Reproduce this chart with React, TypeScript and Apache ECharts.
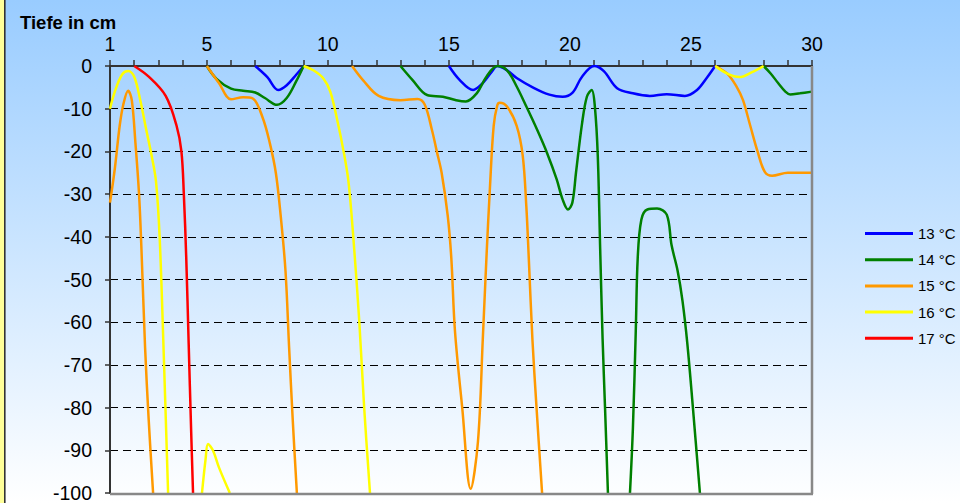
import React, { useEffect, useRef } from "react";
import * as echarts from "echarts";

const seriesNames = ["13 °C", "14 °C", "15 °C", "16 °C", "17 °C"];
const seriesColors = ["#0000FF", "#008000", "#FF9900", "#FFFF00", "#FF0000"];

const xLabelValues = [1, 5, 10, 15, 20, 25, 30];

// 13 °C isotherm segments [day, depth]
const iso13: number[][][] = [
  [[7, 0], [7.5, -2.6], [7.95, -5.6], [8.3, -4.5], [8.7, -2], [9, 0]],
  [[15, 0], [15.45, -3.3], [16, -5.6], [16.4, -4], [16.75, -1.5], [17, 0], [17.4, -1], [17.8, -2.8], [18.5, -5.1], [19.15, -6.7], [19.7, -7.2], [20.1, -6.3], [20.5, -2.5], [21, 0], [21.4, -1.2], [21.95, -5.2], [22.6, -6.4], [23.3, -7], [24, -6.6], [24.75, -7], [25.25, -5.6], [25.65, -2.8], [26, 0]],
];

// 14 °C isotherm segments
const iso14: number[][][] = [
  [[5, 0], [5.4, -3], [6, -5.3], [6.5, -5.8], [7, -6.2], [7.4, -7.5], [7.9, -9.1], [8.3, -7.5], [8.7, -3.5], [9, 0]],
  [[13, 0], [13.5, -3.3], [14.1, -6.8], [14.75, -7.2], [15.3, -8], [15.7, -8.3], [16.15, -6.4], [16.55, -2.5], [17, 0], [17.4, -1], [17.8, -4.8], [18.2, -9.5], [18.65, -15], [19.05, -20.3], [19.45, -26.5], [19.7, -31.3], [19.92, -33.6], [20.1, -32], [20.25, -25], [20.5, -13.5], [20.7, -7.2], [20.9, -5.6], [21.03, -9.5], [21.15, -21], [21.25, -43], [21.35, -64], [21.45, -80], [21.57, -100]],
  [[22.48, -100], [22.6, -85], [22.72, -62], [22.8, -45], [22.95, -36], [23.2, -33.6], [23.6, -33.4], [24, -34.8], [24.2, -42], [24.45, -48], [24.65, -55], [24.85, -65], [25.08, -80], [25.37, -100]],
  [[28, 0], [28.3, -1.8], [28.6, -4], [28.9, -6], [29.1, -6.7], [29.5, -6.4], [30, -6]],
];

// 15 °C isotherm segments
const iso15: number[][][] = [
  [[1, -32], [1.2, -24], [1.4, -14], [1.55, -9], [1.75, -5.8], [1.9, -8], [2.05, -18], [2.2, -30], [2.3, -43], [2.45, -66], [2.6, -83], [2.78, -100]],
  [[5, 0], [5.5, -4], [6, -7.8], [6.5, -7.3], [6.9, -7.6], [7.3, -12], [7.6, -18], [7.85, -25], [8.05, -35], [8.25, -48], [8.4, -66], [8.55, -83], [8.72, -100]],
  [[11, 0], [11.45, -3.3], [12.1, -7], [13, -8], [13.7, -7.7], [14, -9], [14.3, -15], [14.5, -20], [14.7, -25], [14.95, -35], [15.1, -45], [15.25, -62], [15.55, -80], [15.9, -99], [16.2, -88], [16.4, -64], [16.55, -45], [16.7, -28], [16.85, -14], [17, -9.2], [17.1, -8.6], [17.4, -9.5], [17.8, -14], [18.05, -21], [18.2, -33], [18.3, -45], [18.45, -64], [18.62, -80], [18.85, -100]],
  [[26, 0], [26.5, -1.8], [26.9, -5], [27.15, -8], [27.45, -14], [27.75, -20], [28.05, -24.8], [28.35, -25.7], [29, -25], [30, -25]],
];

// 16 °C isotherm segments
const iso16: number[][][] = [
  [[1, -10], [1.2, -6], [1.5, -2], [1.75, -1.2], [2, -2.5], [2.25, -8], [2.5, -15], [2.72, -21], [2.9, -27], [3.05, -40], [3.2, -64], [3.4, -100]],
  [[4.8, -100], [4.95, -92], [5.05, -88.5], [5.25, -90], [5.5, -94], [5.95, -100]],
  [[9, 0], [9.4, -1], [9.8, -2.8], [10.1, -6], [10.4, -13], [10.65, -20], [10.85, -27], [11.05, -40], [11.3, -60], [11.5, -80], [11.74, -100]],
  [[26, 0], [26.5, -1.8], [27, -2.6], [27.5, -1.5], [28, 0]],
];

// 17 °C isotherm segments
const iso17: number[][][] = [
  [[2, 0], [2.6, -2.5], [3.3, -7], [3.75, -14], [3.95, -20], [4.05, -30], [4.15, -45], [4.25, -65], [4.35, -85], [4.43, -100]],
];

const allIso = [iso13, iso14, iso15, iso16, iso17];

const FONT = "'Liberation Sans', Arial, Helvetica, sans-serif";

export default function App() {
  const ref = useRef<HTMLDivElement>(null);

  useEffect(() => {
    if (!ref.current) return;
    const chart = echarts.init(ref.current, null, { renderer: "svg" });

    const series: any[] = [];
    allIso.forEach((segs, i) => {
      segs.forEach((seg) => {
        series.push({
          name: seriesNames[i],
          type: "line",
          data: seg,
          smooth: 0.35,
          symbol: "none",
          showSymbol: false,
          clip: true,
          color: seriesColors[i],
          lineStyle: { color: seriesColors[i], width: 2.5 },
          z: 3 + i,
        });
      });
    });

    chart.setOption({
      animation: false,
      backgroundColor: {
        type: "linear",
        x: 0,
        y: 0,
        x2: 0,
        y2: 1,
        colorStops: [
          { offset: 0, color: "#99CCFF" },
          { offset: 1, color: "#FFFFFF" },
        ],
      },
      title: {
        text: "Tiefe in cm",
        left: 15,
        top: 8,
        textStyle: { fontSize: 18.5, fontWeight: "bold", color: "#000", fontFamily: FONT },
      },
      legend: {
        data: seriesNames,
        orient: "vertical",
        left: 860,
        top: 221,
        icon: "rect",
        itemWidth: 48,
        itemHeight: 3,
        itemGap: 11.2,
        textStyle: { fontSize: 15, lineHeight: 15, color: "#000", fontFamily: FONT },
      },
      grid: { left: 110, right: 148, top: 66, bottom: 9, show: false },
      xAxis: {
        type: "value",
        position: "top",
        min: 1,
        max: 30,
        interval: 1,
        axisLine: { show: true, onZero: false, lineStyle: { color: "#333", width: 2 } },
        axisTick: { show: true, inside: false, length: 6, lineStyle: { color: "#333", width: 1.5 } },
        axisLabel: {
          formatter: (v: number) => (xLabelValues.indexOf(v) >= 0 ? String(v) : ""),
          fontSize: 19.5,
          color: "#000",
          margin: 12,
          fontFamily: FONT,
        },
        splitLine: { show: false },
      },
      yAxis: {
        type: "value",
        min: -100,
        max: 0,
        interval: 10,
        axisLine: { show: true, onZero: false, lineStyle: { color: "#333", width: 2 } },
        axisTick: { show: true, length: 5, lineStyle: { color: "#333", width: 1.5 } },
        axisLabel: { fontSize: 19.5, color: "#000", margin: 18, fontFamily: FONT },
        splitLine: { show: true, lineStyle: { color: "#000", type: [8, 5], width: 1 } },
      },
      graphic: [
        { type: "rect", left: 0, top: 0, shape: { width: 4, height: 503 }, style: { fill: "#FFFF99" }, z: 100 },
        { type: "line", shape: { x1: 4.8, y1: 0, x2: 4.8, y2: 503 }, style: { stroke: "#333", lineWidth: 1.6 }, z: 100 },
        { type: "line", shape: { x1: 812, y1: 66, x2: 812, y2: 494 }, style: { stroke: "#888", lineWidth: 2.5 }, z: 100 },
        { type: "line", shape: { x1: 110, y1: 494, x2: 813, y2: 494 }, style: { stroke: "#888", lineWidth: 2.5 }, z: 100 },
      ],
      series,
    });

    return () => chart.dispose();
  }, []);

  return (
    <div
      ref={ref}
      style={{ position: "fixed", left: 0, top: 0, width: 960, height: 503 }}
    />
  );
}
